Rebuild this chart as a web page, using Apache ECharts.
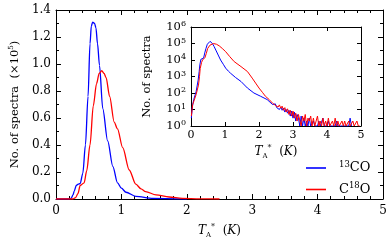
<!DOCTYPE html>
<html>
<head>
<meta charset="utf-8">
<script src="https://cdn.jsdelivr.net/npm/echarts@6/dist/echarts.min.js"></script>
<style>html,body{margin:0;padding:0;background:#fff;}#c{width:390px;height:244px;}</style>
</head>
<body>
<div id="c"></div>
<script>
// ---- Main panel (linear, units of 1e5 spectra) ----
const main13X = [0.00, 0.20, 0.23, 0.26, 0.28, 0.31, 0.34, 0.37, 0.41, 0.45, 0.49, 0.52, 0.54, 0.56, 0.59, 0.61, 0.635, 0.665, 0.715, 0.79, 0.87, 0.94, 1.00, 1.07, 1.22, 1.48, 2.00];
const main13Y = [0, 0, 0.005, 0.03, 0.06, 0.10, 0.11, 0.115, 0.19, 0.40, 0.76, 1.15, 1.28, 1.31, 1.30, 1.27, 1.15, 0.99, 0.67, 0.43, 0.24, 0.12, 0.08, 0.05, 0.02, 0.005, 0];
const main18X = [0.00, 0.26, 0.30, 0.335, 0.37, 0.43, 0.47, 0.52, 0.57, 0.62, 0.66, 0.70, 0.735, 0.765, 0.82, 0.89, 0.94, 1.02, 1.12, 1.22, 1.30, 1.37, 1.53, 1.73, 1.93, 2.20, 2.50];
const main18Y = [0, 0, 0.01, 0.04, 0.10, 0.12, 0.21, 0.40, 0.69, 0.855, 0.93, 0.95, 0.93, 0.90, 0.76, 0.57, 0.52, 0.38, 0.215, 0.11, 0.075, 0.055, 0.03, 0.015, 0.005, 0.001, 0];

// ---- Inset panel (log counts) ----
const ins13X = [0.01, 0.04, 0.08, 0.15, 0.21, 0.24, 0.26, 0.29, 0.33, 0.37, 0.41, 0.44, 0.48, 0.51, 0.56, 0.60, 0.63, 0.68, 0.73, 0.80, 0.87, 0.95, 1.02, 1.10, 1.16, 1.31, 1.47, 1.66, 1.85, 2.05, 2.24,
  2.40, 2.44, 2.48, 2.52, 2.56, 2.60, 2.64, 2.68, 2.72, 2.76, 2.80, 2.84, 2.88, 2.92, 2.96, 3.00, 3.04, 3.08, 3.12, 3.16, 3.20, 3.24, 3.28, 3.32, 3.36, 3.40, 3.44, 3.48, 3.52, 3.56, 3.60, 3.64, 3.68, 3.72, 3.76, 3.80, 3.84, 3.88, 3.92, 3.96, 4.00, 4.04, 4.08, 4.12, 4.16, 4.20, 4.24, 4.28, 4.32, 4.36, 4.40, 4.44, 4.48, 4.52, 4.56, 4.60, 4.64, 4.68, 4.72];
const ins13N = [3, 15, 40, 120, 600, 2000, 5000, 11000, 12000, 13000, 30000, 50000, 90000, 115000, 135000, 125000, 100000, 65000, 40000, 20000, 10000, 5500, 3200, 2100, 1600, 870, 500, 200, 100, 63, 40,
  20, 16, 22, 13, 17, 10, 14, 9, 12, 7, 10, 6, 9, 4, 8, 3, 7, 2, 5, 3, 1, 4, 1, 3, 1, 2, 1, 3, 1, 1, 2, 1, 1, 1, 2, 1, 1, 3, 1, 1, 1, 2, 1, 1, 1, 1, 1, 2, 1, 1, 1, 1, 1, 1, 1, 1, 1, 3, 1];
const ins18X = [0.01, 0.05, 0.15, 0.22, 0.25, 0.27, 0.31, 0.34, 0.41, 0.45, 0.49, 0.56, 0.66, 0.75, 0.83, 0.92, 1.02, 1.14, 1.27, 1.47, 1.66, 1.80, 1.90, 2.00, 2.10, 2.19, 2.30,
  2.40, 2.44, 2.48, 2.52, 2.56, 2.60, 2.64, 2.68, 2.72, 2.76, 2.80, 2.84, 2.88, 2.92, 2.96, 3.00, 3.04, 3.08, 3.12, 3.16, 3.20, 3.24, 3.28, 3.32, 3.36, 3.40, 3.44, 3.48, 3.52, 3.56, 3.60, 3.64, 3.68, 3.72, 3.76, 3.80, 3.84, 3.88, 3.92, 3.96, 4.00, 4.04, 4.08, 4.12, 4.16, 4.20, 4.24, 4.28, 4.32, 4.36, 4.40, 4.44, 4.48, 4.52, 4.56, 4.60, 4.64, 4.68, 4.72, 4.76, 4.80, 4.84, 4.88, 4.92, 4.96];
const ins18N = [4, 20, 80, 300, 1000, 3000, 7000, 10000, 14000, 25000, 50000, 80000, 100000, 90000, 72000, 50000, 32000, 16000, 8000, 4000, 2000, 800, 400, 200, 110, 63, 40,
  24, 30, 18, 22, 14, 19, 12, 16, 9, 13, 7, 11, 5, 9, 4, 8, 3, 6, 2, 5, 4, 1, 4, 2, 5, 1, 3, 2, 4, 1, 3, 1, 2, 4, 1, 2, 1, 3, 1, 2, 1, 3, 1, 1, 2, 1, 3, 1, 2, 1, 1, 2, 1, 2, 1, 1, 2, 1, 1, 2, 1, 1, 2, 1, 1];

const seriesNames = ['13CO', 'C18O'];
const colors = ['#0000ff', '#ff0000'];

const zip = (xs, ys) => xs.map((x, i) => [x, ys[i]]);
const SERIF = "'DejaVu Serif', serif";

const nameRich = {
  t: { fontFamily: SERIF, fontStyle: 'italic', fontSize: 12, color: '#000' },
  sb: { fontFamily: SERIF, fontSize: 7, color: '#000', verticalAlign: 'bottom', lineHeight: 10 },
  sp: { fontFamily: SERIF, fontSize: 8, color: '#000', verticalAlign: 'top', lineHeight: 10 },
  n: { fontFamily: SERIF, fontSize: 12, color: '#000', lineHeight: 16 }
};
const tName = '{t|T}{sb|A}{sp|*}{n|  (}{t|K}{n|)}';

const axBase = {
  axisLine: { show: true, onZero: false, lineStyle: { color: '#000', width: 1 } },
  splitLine: { show: false }
};

const chart = echarts.init(document.getElementById('c'), null, { renderer: 'canvas' });
chart.setOption({
  animation: false,
  backgroundColor: '#fff',
  grid: [
    { left: 53, top: 10, right: 7, bottom: 37 },
    { left: 191, top: 27, width: 170, height: 99, show: true, backgroundColor: '#fff', borderWidth: 0, z: 5 }
  ],
  xAxis: [
    Object.assign({}, axBase, { gridIndex: 0, type: 'value', min: 0, max: 5, interval: 1, position: 'bottom',
      axisTick: { inside: true, length: 5, lineStyle: { color: '#000' } },
      minorTick: { show: true, splitNumber: 5, length: 3, lineStyle: { color: '#000' } },
      axisLabel: { margin: 6, fontFamily: SERIF, fontSize: 12, color: '#000' },
      name: tName, nameLocation: 'middle', nameGap: 24, nameTextStyle: { rich: nameRich } }),
    Object.assign({}, axBase, { gridIndex: 0, type: 'value', min: 0, max: 5, interval: 1, position: 'top',
      axisTick: { inside: true, length: 5, lineStyle: { color: '#000' } },
      minorTick: { show: true, splitNumber: 5, length: 3, lineStyle: { color: '#000' } },
      axisLabel: { show: false } }),
    Object.assign({}, axBase, { gridIndex: 1, type: 'value', min: 0, max: 5, interval: 1, position: 'bottom', z: 6,
      axisTick: { inside: true, length: 4, lineStyle: { color: '#000' } },
      axisLabel: { margin: 4, fontFamily: SERIF, fontSize: 11, color: '#000' },
      name: tName, nameLocation: 'middle', nameGap: 18, nameTextStyle: { rich: nameRich } }),
    Object.assign({}, axBase, { gridIndex: 1, type: 'value', min: 0, max: 5, interval: 1, position: 'top', z: 6,
      axisTick: { inside: true, length: 4, lineStyle: { color: '#000' } },
      axisLabel: { show: false } })
  ],
  yAxis: [
    Object.assign({}, axBase, { gridIndex: 0, type: 'value', min: 0, max: 1.4, interval: 0.2, position: 'left',
      axisTick: { inside: true, length: 5, lineStyle: { color: '#000' } },
      minorTick: { show: true, splitNumber: 2, length: 3, lineStyle: { color: '#000' } },
      axisLabel: { margin: 5, fontFamily: SERIF, fontSize: 12, color: '#000', formatter: v => v.toFixed(1) },
      name: '{n|No. of spectra  (×10}{sp|5}{n|)}', nameLocation: 'middle', nameGap: 34, nameRotate: 90,
      nameTextStyle: { rich: {
        n: { fontFamily: SERIF, fontSize: 11.5, color: '#000', lineHeight: 14 },
        sp: { fontFamily: SERIF, fontSize: 7, color: '#000', verticalAlign: 'top', lineHeight: 9 } } } }),
    Object.assign({}, axBase, { gridIndex: 0, type: 'value', min: 0, max: 1.4, interval: 0.2, position: 'right',
      axisTick: { inside: true, length: 5, lineStyle: { color: '#000' } },
      minorTick: { show: true, splitNumber: 2, length: 3, lineStyle: { color: '#000' } },
      axisLabel: { show: false } }),
    Object.assign({}, axBase, { gridIndex: 1, type: 'log', logBase: 10, min: 1, max: 1e6, interval: 1, position: 'left', z: 6,
      axisTick: { inside: true, length: 4, lineStyle: { color: '#000' } },
      axisLabel: { margin: 5, color: '#000',
        formatter: v => '{b|10}{s|' + Math.round(Math.log10(v)) + '}',
        rich: { b: { fontFamily: SERIF, fontSize: 11.5, color: '#000', lineHeight: 14 },
                s: { fontFamily: SERIF, fontSize: 8, color: '#000', verticalAlign: 'top', lineHeight: 9 } } },
      name: 'No. of spectra', nameLocation: 'middle', nameGap: 38, nameRotate: 90,
      nameTextStyle: { fontFamily: SERIF, fontSize: 11.5, color: '#000' } }),
    Object.assign({}, axBase, { gridIndex: 1, type: 'log', logBase: 10, min: 1, max: 1e6, interval: 1, position: 'right', z: 6,
      axisTick: { inside: true, length: 4, lineStyle: { color: '#000' } },
      axisLabel: { show: false } })
  ],
  legend: {
    orient: 'vertical', left: 301, top: 155, itemWidth: 20, itemHeight: 14, itemGap: 7,
    data: seriesNames,
    icon: 'path://M0,6 L20,6 L20,7.6 L0,7.6 Z',
    formatter: name => name === '13CO' ? '{g|}{s|13}{n|CO}' : '{g|}{n|C}{s|18}{n|O}',
    textStyle: { rich: {
      g: { width: 8 },
      n: { fontFamily: SERIF, fontSize: 13, color: '#000', lineHeight: 16 },
      s: { fontFamily: SERIF, fontSize: 8.5, color: '#000', verticalAlign: 'top', lineHeight: 10 } } },
    selectedMode: false
  },
  series: [
    { name: seriesNames[0], type: 'line', xAxisIndex: 0, yAxisIndex: 0, data: zip(main13X, main13Y),
      symbol: 'none', smooth: 0.3, smoothMonotone: 'x', lineStyle: { color: colors[0], width: 1.3 }, itemStyle: { color: colors[0] } },
    { name: seriesNames[1], type: 'line', xAxisIndex: 0, yAxisIndex: 0, data: zip(main18X, main18Y),
      symbol: 'none', smooth: 0.3, smoothMonotone: 'x', lineStyle: { color: colors[1], width: 1.3 }, itemStyle: { color: colors[1] } },
    { name: seriesNames[0], type: 'line', xAxisIndex: 2, yAxisIndex: 2, data: zip(ins13X, ins13N), z: 7,
      symbol: 'none', lineStyle: { color: colors[0], width: 1 }, itemStyle: { color: colors[0] } },
    { name: seriesNames[1], type: 'line', xAxisIndex: 2, yAxisIndex: 2, data: zip(ins18X, ins18N), z: 8,
      symbol: 'none', lineStyle: { color: colors[1], width: 1 }, itemStyle: { color: colors[1] } }
  ]
});
</script>
</body>
</html>
